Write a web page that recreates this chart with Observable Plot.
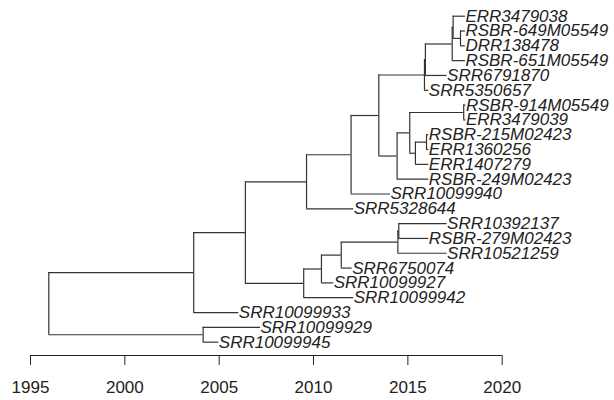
<!DOCTYPE html>
<html><head><meta charset="utf-8">
<script src="https://cdn.jsdelivr.net/npm/d3@7"></script>
<script src="https://cdn.jsdelivr.net/npm/@observablehq/plot@0.6"></script>
<style>
html,body{margin:0;padding:0;background:#fff;}
#chart svg{display:block;}
</style>
</head><body><div id="chart"></div>
<script>
// Tips, listed top to bottom
const tipLabels = ["ERR3479038","RSBR-649M05549","DRR138478","RSBR-651M05549","SRR6791870","SRR5350657",
  "RSBR-914M05549","ERR3479039","RSBR-215M02423","ERR1360256","ERR1407279","RSBR-249M02423",
  "SRR10099940","SRR5328644","SRR10392137","RSBR-279M02423","SRR10521259","SRR6750074",
  "SRR10099927","SRR10099942","SRR10099933","SRR10099929","SRR10099945"];
const tipParents = ["X1","P","P","K2","K1","K","N","N","O2","O2","O","L","I","D","H2","H2","H","G","F","E","A","B","B"];
const tipDates = [2018.05,2018.05,2018.05,2018.05,2017.08,2016.11,2018.08,2018.08,2016.11,2016.11,2016.11,2016.11,
  2014.08,2012.13,2017.08,2016.11,2017.08,2012.05,2011.07,2012.13,2006.04,2007.19,2004.98];

// Internal nodes
const nodeIds     = ["root","A","B","C","D","E","F","G","H","H2","I","J","K","K1","K2","X1","P","L","M","N","O","O2"];
const nodeParents = [null,"root","root","A","C","C","E","F","G","H","D","I","J","K","K1","K2","X1","J","L","M","M","O"];
const nodeDates   = [1995.97,2003.65,2004.15,2006.39,2009.63,2009.48,2010.42,2011.47,2014.47,2014.52,2011.99,2013.46,
  2015.88,2015.93,2017.35,2017.40,2017.79,2014.43,2015.10,2017.96,2015.40,2015.99];

const axisTicks = [1995, 2000, 2005, 2010, 2015, 2020];

// ---- build tree layout ----
const nodes = new Map();
nodeIds.forEach((id, i) => nodes.set(id, {id, parent: nodeParents[i], date: nodeDates[i], children: []}));
tipLabels.forEach((lab, i) => nodes.set("tip:" + lab, {id: "tip:" + lab, label: lab, parent: tipParents[i], date: tipDates[i], children: [], y: i, tip: true}));
for (const n of nodes.values()) if (n.parent) nodes.get(n.parent).children.push(n);
function layY(n) {
  if (n.tip) return n.y;
  const ys = n.children.map(layY);
  n.y = (Math.min(...ys) + Math.max(...ys)) / 2;
  return n.y;
}
layY(nodes.get("root"));

const horiz = [], vert = [], tips = [];
for (const n of nodes.values()) {
  if (n.parent) {
    const p = nodes.get(n.parent);
    horiz.push({y: n.y, x1: p.date, x2: n.date});
  }
  if (!n.tip) {
    const ys = n.children.map(c => c.y);
    vert.push({x: n.date, y1: Math.min(...ys), y2: Math.max(...ys)});
  } else tips.push(n);
}

const yAxisPos = 22.9;
const font = "'Liberation Sans', Arial, Helvetica, sans-serif";

const chart = Plot.plot({
  width: 614,
  height: 400,
  marginLeft: 0,
  marginRight: 0,
  marginTop: 0,
  marginBottom: 45,
  style: {fontFamily: font, color: "#222", background: "#fff"},
  x: {domain: [1995, 2020], range: [30, 501.7]},
  y: {domain: [0, yAxisPos], range: [15.7, 355], axis: null},
  marks: [
    Plot.ruleY(horiz, {y: "y", x1: "x1", x2: "x2", stroke: "#333", strokeWidth: 1.2}),
    Plot.ruleX(vert, {x: "x", y1: "y1", y2: "y2", stroke: "#333", strokeWidth: 1.2}),
    Plot.text(tips, {x: "date", y: "y", text: "label", textAnchor: "start", fontStyle: "italic",
      fontSize: 17, fill: "#222", fontFamily: font}),
    Plot.ruleY([{y: yAxisPos, x1: 1995, x2: 2020}], {y: "y", x1: "x1", x2: "x2", stroke: "#222", strokeWidth: 1}),
    Plot.axisX({ticks: axisTicks, tickFormat: "d", tickSize: 10, tickPadding: 15, fontSize: 17,
      stroke: "#222", fill: "#222", label: null})
  ]
});
document.getElementById("chart").appendChild(chart);
</script>
</body></html>
